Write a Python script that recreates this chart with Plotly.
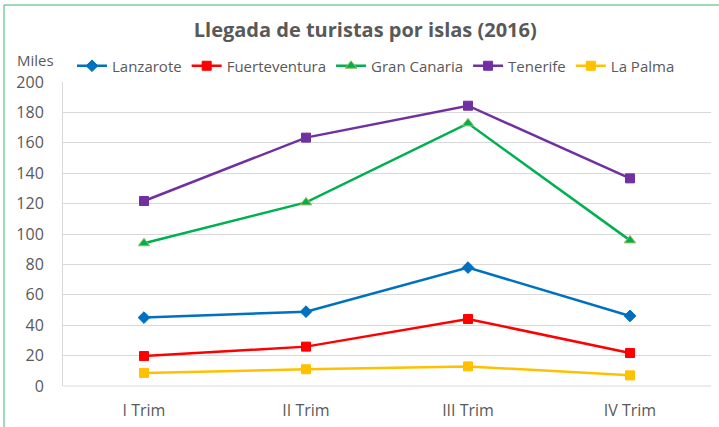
import plotly.graph_objects as go

categories = ["I Trim", "II Trim", "III Trim", "IV Trim"]
lanzarote = [45.0, 48.9, 77.9, 46.1]
fuerteventura = [19.7, 25.9, 44.1, 21.7]
gran_canaria = [93.9, 120.8, 172.8, 95.8]
tenerife = [121.7, 163.4, 184.4, 136.6]
la_palma = [8.6, 11.0, 12.9, 7.0]
y_ticks = [0, 20, 40, 60, 80, 100, 120, 140, 160, 180, 200]

FONT = "Open Sans"
series = [
    ("Lanzarote", lanzarote, "#0070C0", "diamond", 9, "#0070C0"),
    ("Fuerteventura", fuerteventura, "#FF0000", "square", 9, "#FF0000"),
    ("Gran Canaria", gran_canaria, "#00B050", "triangle-up", 10, "#9BBB59"),
    ("Tenerife", tenerife, "#7030A0", "square", 9, "#7030A0"),
    ("La Palma", la_palma, "#FFC000", "square", 9, "#FFC000"),
]

fig = go.Figure()
for name, vals, color, sym, size, edge in series:
    fig.add_trace(go.Scatter(
        x=categories, y=vals, name=name, mode="lines+markers",
        line=dict(color=color, width=2.5),
        marker=dict(symbol=sym, size=size, color=color, line=dict(color=edge, width=1)),
    ))

W, H = 719, 427
ml, mr, mt, mb = 63, 8, 82, 41
pw, ph = W - ml - mr, H - mt - mb

fig.update_layout(
    width=W, height=H,
    margin=dict(l=ml, r=mr, t=mt, b=mb, autoexpand=False),
    paper_bgcolor="white", plot_bgcolor="white",
    font=dict(family=FONT, color="#595959", size=15),
    title=dict(text="<b>Llegada de turistas por islas (2016)</b>", x=0.508, xref="container",
               xanchor="center", y=1 - 30 / H, yanchor="middle",
               font=dict(family=FONT, size=20, color="#595959")),
    showlegend=True,
    legend=dict(orientation="h", x=(72 - ml) / pw, xanchor="left", y=(mt + ph - 66) / ph,
                yanchor="middle", font=dict(family=FONT, size=15, color="#595959"),
                bgcolor="rgba(0,0,0,0)", itemwidth=30, tracegroupgap=0),
    xaxis=dict(type="category", range=[-0.5, 3.5], showgrid=False, showline=False,
               ticks="", tickfont=dict(size=16, color="#595959"), ticklabelstandoff=13,
               zeroline=False, automargin=False),
    yaxis=dict(range=[0, 200], tickvals=y_ticks, showgrid=True, gridcolor="#D9D9D9",
               gridwidth=1, showline=True, linecolor="#D9D9D9", linewidth=1,
               ticks="", tickfont=dict(size=16, color="#595959"), zeroline=False,
               ticklabelstandoff=15, automargin=False),
    shapes=[
        dict(type="line", xref="paper", yref="paper", x0=0, x1=1, y0=0, y1=0,
             line=dict(color="#D9D9D9", width=1)),
        dict(type="rect", xref="paper", yref="paper",
             x0=(4 - ml) / pw, x1=(W + 20 - ml) / pw,
             y0=(mt + ph - (H + 20)) / ph, y1=(mt + ph - 5) / ph,
             line=dict(color="#3CB371", width=1), fillcolor="rgba(0,0,0,0)", layer="below"),
    ],
    annotations=[
        dict(text="Miles", xref="paper", yref="paper", x=(35 - ml) / pw, y=(mt + ph - 60) / ph,
             xanchor="center", yanchor="middle", showarrow=False,
             font=dict(family=FONT, size=15, color="#595959")),
    ],
)

fig.write_html("out.html")
